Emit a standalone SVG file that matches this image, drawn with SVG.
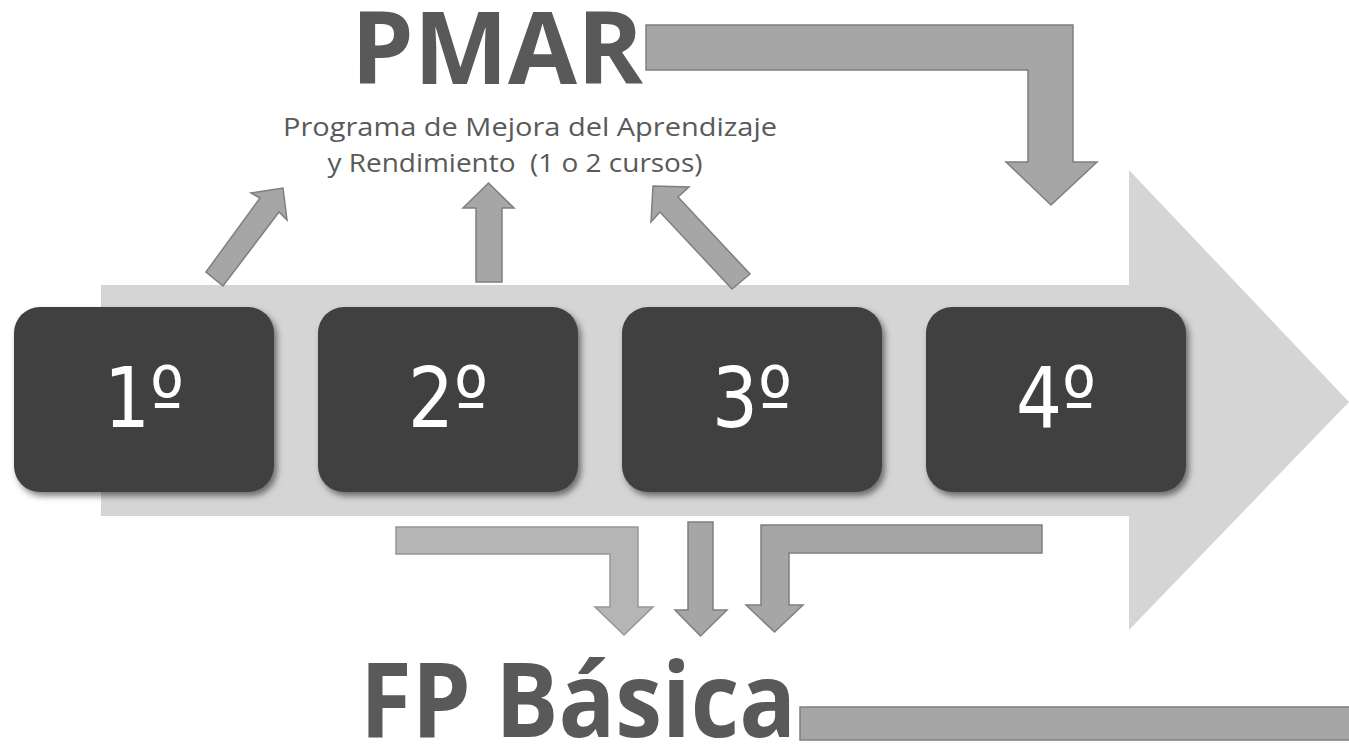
<svg xmlns="http://www.w3.org/2000/svg" width="1349" height="744" viewBox="0 0 1349 744">
<style>
.arr{fill:#a6a6a6;stroke:#7f7f7f;stroke-width:1.5;stroke-linejoin:miter}
.arrl{fill:#b5b5b5;stroke:#969696;stroke-width:1.5}
.box{fill:#404040;filter:url(#sh)}
.num{font-family:"DejaVu Sans","Open Sans",sans-serif;font-size:84px;fill:#ffffff;text-anchor:middle}
.title{font-family:"Open Sans","Liberation Sans",sans-serif;font-weight:bold;fill:#595959}
.sub{font-family:"Open Sans","Liberation Sans",sans-serif;font-size:25px;fill:#595959;text-anchor:middle}
</style>
<defs>
<filter id="sh" x="-10%" y="-10%" width="125%" height="130%">
<feDropShadow dx="3" dy="4" stdDeviation="3" flood-color="#000" flood-opacity="0.5"/>
</filter>
</defs>
<g id="timeline">
<polygon points="101,285 1129,285 1129,170 1349,402 1129,630 1129,516 101,516" fill="#d5d5d5"/>
</g>
<g id="pmar">
<text class="title" x="497" y="84" font-size="100" text-anchor="middle">PMAR</text>
<text class="sub" x="530" y="136" textLength="494" lengthAdjust="spacingAndGlyphs">Programa de Mejora del Aprendizaje</text>
<text class="sub" x="515" y="172" xml:space="preserve" textLength="375" lengthAdjust="spacingAndGlyphs">y Rendimiento  (1 o 2 cursos)</text>
</g>
<g id="fpbasica">
<text class="title" x="360" y="737" font-size="104" textLength="436" lengthAdjust="spacingAndGlyphs">FP Básica</text>
</g>
<g id="n1"><rect class="box" x="14" y="307" width="260" height="185" rx="26"/><text class="num" x="144" y="427" textLength="80" lengthAdjust="spacingAndGlyphs">1º</text></g>
<g id="n2"><rect class="box" x="318" y="307" width="260" height="185" rx="26"/><text class="num" x="448" y="427" textLength="80" lengthAdjust="spacingAndGlyphs">2º</text></g>
<g id="n3"><rect class="box" x="622" y="307" width="260" height="185" rx="26"/><text class="num" x="752" y="427" textLength="80" lengthAdjust="spacingAndGlyphs">3º</text></g>
<g id="n4"><rect class="box" x="926" y="307" width="260" height="185" rx="26"/><text class="num" x="1056" y="427" textLength="80" lengthAdjust="spacingAndGlyphs">4º</text></g>
<g id="connectors">
<polygon class="arr" points="206,272 260,198 251,193 283,188 287,220 279,212 223,286"/>
<polygon class="arr" points="476,282 476,208 463,208 488.5,183 514,208 502,208 502,282"/>
<polygon class="arr" points="732,289 660,212 651,222 653,186 689,187 678,197 750,274"/>
<polygon class="arr" points="646,25 1073,25 1073,162 1097,162 1051,205 1006,162 1028,162 1028,70 646,70"/>
<polygon class="arrl" points="396,527 638,527 638,607 653,607 624,635 595,607 610,607 610,554 396,554"/>
<polygon class="arr" points="688,522 713,522 713,610 727,610 700.5,636 675,610 688,610"/>
<polygon class="arr" points="1042,525 1042,553 789,553 789,605 803,605 774.5,632 746,605 761,605 761,525"/>
<rect class="arr" x="800" y="707" width="560" height="33"/>
</g>
</svg>
